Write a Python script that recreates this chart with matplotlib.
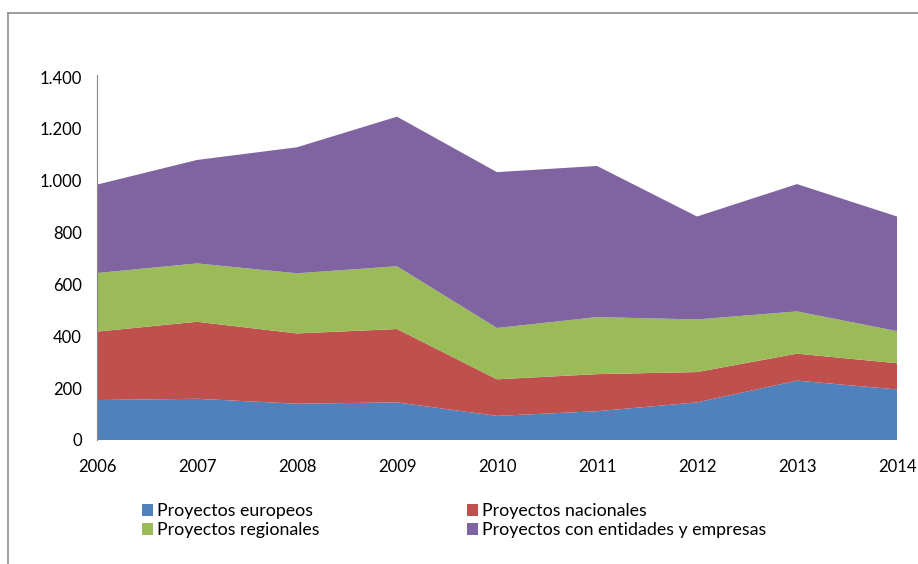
import matplotlib
matplotlib.use('Agg')
import matplotlib.pyplot as plt
from matplotlib.patches import Patch
from matplotlib.ticker import FuncFormatter, MultipleLocator
from matplotlib.lines import Line2D

plt.rcParams['font.family'] = ['Lato', 'DejaVu Sans']

# Datos
years = [2006, 2007, 2008, 2009, 2010, 2011, 2012, 2013, 2014]
europeos = [154, 159, 140, 145, 93, 111, 145, 229, 195]
nacionales = [264, 297, 271, 283, 141, 143, 117, 104, 101]
regionales = [226, 225, 232, 242, 198, 220, 203, 163, 124]
entidades = [341, 399, 486, 577, 601, 583, 397, 491, 442]

labels = ['Proyectos europeos', 'Proyectos nacionales',
          'Proyectos regionales', 'Proyectos con entidades y empresas']
colors = ['#4F81BD', '#C0504D', '#9BBB59', '#8064A2']

W, H = 918, 564
fig = plt.figure(figsize=(W / 100, H / 100), dpi=100)
ax = fig.add_axes([97 / W, 1 - 440 / H, (897 - 97) / W, (440 - 77) / H])

ax.stackplot(years, europeos, nacionales, regionales, entidades,
             colors=colors, linewidth=0)

ax.set_xlim(2006, 2014)
ax.set_ylim(0, 1400)
ax.yaxis.set_major_locator(MultipleLocator(200))
ax.yaxis.set_major_formatter(FuncFormatter(lambda v, p: f'{int(v):,}'.replace(',', '.')))
ax.set_xticks(years)
ax.tick_params(axis='both', length=0, labelsize=12, colors='black')
ax.tick_params(axis='y', pad=11)
ax.tick_params(axis='x', pad=14)

for s in ['top', 'right', 'bottom']:
    ax.spines[s].set_visible(False)
ax.spines['left'].set_color('#868686')
ax.spines['left'].set_linewidth(0.8)
ax.spines['left'].set_bounds(0, 1408)

# Leyenda en dos columnas (dos leyendas colocadas a mano)
handles = [Patch(facecolor=c, edgecolor='none') for c in colors]
leg_kw = dict(frameon=False, prop={'family': 'Lato', 'size': 12.8},
              handlelength=0.62, handleheight=0.62,
              handletextpad=0.25, labelspacing=0.17, borderpad=0, borderaxespad=0,
              loc='upper left')
fig.legend([handles[0], handles[2]], [labels[0], labels[2]],
           bbox_to_anchor=(142 / W, 1 - 503 / H), **leg_kw)
fig.legend([handles[1], handles[3]], [labels[1], labels[3]],
           bbox_to_anchor=(467 / W, 1 - 503 / H), **leg_kw)

# Borde del área del gráfico (recortado)
fig.add_artist(Line2D([8 / W, 8 / W], [0, 1 - 13 / H], transform=fig.transFigure,
                      color='#8c8c8c', linewidth=1.2))
fig.add_artist(Line2D([8 / W, 1], [1 - 13 / H, 1 - 13 / H], transform=fig.transFigure,
                      color='#8c8c8c', linewidth=1.2))

fig.savefig('out.png', dpi=100)
